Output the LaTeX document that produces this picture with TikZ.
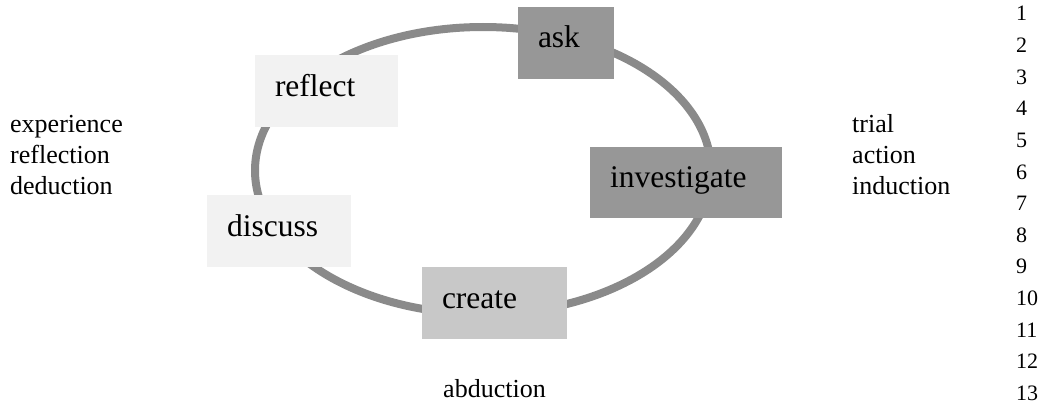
\documentclass[tikz,border=0pt]{standalone}
\usepackage{fontspec}
\setmainfont{Liberation Serif}
\definecolor{ringgray}{HTML}{8A8A8A}
\definecolor{darkbox}{HTML}{979797}
\definecolor{midbox}{HTML}{C8C8C8}
\definecolor{lightbox}{HTML}{F2F2F2}
\tikzset{
  stagebox/.style={rectangle, draw=none, inner xsep=20pt, inner ysep=0pt,
    minimum height=72pt, align=left, text height=15pt, text depth=5pt,
    font=\fontsize{31.5}{36}\selectfont, text=black},
  ring/.style={draw=ringgray, line width=8pt},
  sidetext/.style={anchor=base west, inner sep=0pt, font=\fontsize{26}{31}\selectfont},
  linenum/.style={anchor=base west, inner sep=0pt, font=\fontsize{22}{26}\selectfont}
}
\begin{document}
\begin{tikzpicture}[x=1pt, y=-1pt]
\useasboundingbox (0,0) rectangle (1043,404);
% cycle ring
\draw[ring] (483,170.5) ellipse [x radius=228pt, y radius=143.5pt];
% stage boxes
\node[stagebox, fill=darkbox, text width=56pt] (ask) at (566,43) {ask};
\node[stagebox, fill=lightbox, text width=103pt] (reflect) at (326.5,91) {reflect};
\node[stagebox, fill=darkbox, text width=152pt, minimum height=71pt] (investigate) at (686,182.5) {investigate};
\node[stagebox, fill=lightbox, text width=104pt] (discuss) at (279,231) {discuss};
\node[stagebox, fill=midbox, text width=105pt] (create) at (494.5,303) {create};
% side texts
\node[sidetext] (experience) at (10,132) {experience};
\node[sidetext] (reflection) at (10,163) {reflection};
\node[sidetext] (deduction) at (10,194) {deduction};
\node[sidetext] (trial) at (852,132) {trial};
\node[sidetext] (action) at (852,163) {action};
\node[sidetext] (induction) at (852,194) {induction};
\node[sidetext] (abduction) at (443,397) {abduction};
% line numbers
\foreach \n in {1,...,13} {
  \node[linenum] (ln\n) at (1016,{21+31.6*(\n-1)}) {\n};
}
\end{tikzpicture}
\end{document}
